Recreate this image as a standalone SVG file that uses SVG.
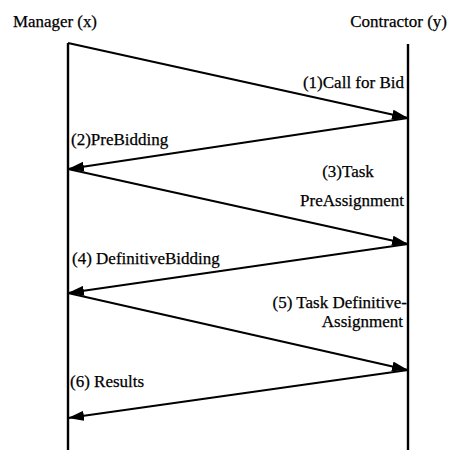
<svg xmlns="http://www.w3.org/2000/svg" width="449" height="450" viewBox="0 0 449 450">
<defs>
<style>
text{font-family:'Liberation Serif','Times New Roman',serif;font-size:17px;fill:#000;stroke:#000;stroke-width:0.25;}
.life{stroke:#000;stroke-width:2.4;fill:none;}
.msg{stroke:#000;stroke-width:2.2;fill:none;marker-end:url(#ah);}
</style>
<marker id="ah" markerUnits="userSpaceOnUse" viewBox="0 0 16 10" refX="16" refY="5" markerWidth="16" markerHeight="10" orient="auto">
<path d="M0,0 L16,5 L0,10 Z" fill="#000"/>
</marker>
</defs>
<rect width="449" height="450" fill="#fff"/>
<g id="manager">
<text x="13" y="27" textLength="84" lengthAdjust="spacingAndGlyphs">Manager (x)</text>
<line class="life" x1="68" y1="43" x2="68" y2="450"/>
</g>
<g id="contractor">
<text x="447" y="27" text-anchor="end">Contractor (y)</text>
<line class="life" x1="408" y1="44" x2="408" y2="450"/>
</g>
<g id="connectors">
<line class="msg" x1="68" y1="43" x2="408" y2="118"/>
<line class="msg" x1="408" y1="118" x2="68" y2="169"/>
<line class="msg" x1="68" y1="169" x2="408" y2="244"/>
<line class="msg" x1="408" y1="244" x2="68" y2="293"/>
<line class="msg" x1="68" y1="293" x2="408" y2="370"/>
<line class="msg" x1="408" y1="370" x2="68" y2="418"/>
</g>
<g id="labels">
<text x="404" y="88" text-anchor="end" font-size="17.5">(1)Call for Bid</text>
<text x="71" y="145">(2)PreBidding</text>
<text x="348" y="177" text-anchor="middle">(3)Task</text>
<text x="404" y="206" text-anchor="end">PreAssignment</text>
<text x="72" y="264">(4) DefinitiveBidding</text>
<text x="407" y="308" text-anchor="end">(5) Task Definitive-</text>
<text x="403" y="327" text-anchor="end">Assignment</text>
<text x="70" y="387">(6) Results</text>
</g>
</svg>
